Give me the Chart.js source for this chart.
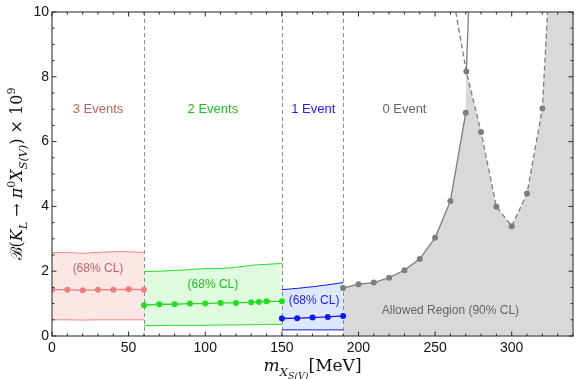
<!DOCTYPE html>
<html>
<head>
<meta charset="utf-8">
<script src="https://cdn.jsdelivr.net/npm/chart.js@4/dist/chart.umd.min.js"></script>
<style>
  body { margin: 0; background: #fff; }
  canvas { display: block; }
</style>
</head>
<body>
<canvas id="chart" width="577" height="379"></canvas>
<script>
// 3 events (red)
const xRed = [0, 10, 20, 30, 40, 50, 60];
const redMid = [1.43, 1.43, 1.41, 1.43, 1.43, 1.44, 1.43];
const redHi = [2.57, 2.58, 2.55, 2.58, 2.6, 2.6, 2.58];
const redLo = [0.5, 0.5, 0.49, 0.5, 0.5, 0.5, 0.5];

// 2 events (green)
const xGreen = [60, 70, 80, 90, 100, 110, 120, 130, 135, 140, 150];
const greenMid = [0.95, 0.98, 0.98, 1.0, 1.0, 1.02, 1.02, 1.04, 1.05, 1.07, 1.07];
const greenHi = [1.99, 2.0, 2.02, 2.05, 2.08, 2.08, 2.12, 2.18, 2.2, 2.21, 2.24];
const greenLo = [0.32, 0.32, 0.33, 0.33, 0.33, 0.34, 0.34, 0.35, 0.35, 0.36, 0.36];

// 1 event (blue)
const xBlue = [150, 160, 170, 180, 190];
const blueMid = [0.54, 0.55, 0.57, 0.59, 0.62];
const blueHi = [1.43, 1.47, 1.52, 1.58, 1.65];
const blueLo = [0.19, 0.19, 0.19, 0.19, 0.19];

// 0 event (gray), solid curve and dashed curve
const xSolid = [190, 200, 210, 220, 230, 240, 250, 260, 270];
const solidY = [1.48, 1.6, 1.65, 1.8, 2.03, 2.38, 3.03, 4.17, 6.89];
const xSolidExit = [270.4, 271.8];
const solidExitY = [8.16, 10];
const xDashed = [263.5, 270.4, 280, 290, 300, 310, 320, 323.4];
const dashedY = [10, 8.16, 6.3, 3.99, 3.39, 4.4, 7.02, 10];

const boundaries = [60, 150, 190];
const xTicks = [0, 50, 100, 150, 200, 250, 300];

const pts = (xs, ys) => xs.map((x, i) => ({ x: x, y: ys[i] }));

const GREEN = 'rgb(34,222,34)', BLUE = 'rgb(20,20,240)', GRAY = 'rgb(125,125,125)';

// allowed region envelope: solid curve then dashed curve beyond the crossing
const envelope = pts(xSolid, solidY)
  .concat(pts(xDashed.slice(1), dashedY.slice(1)))
  .concat([{ x: 340, y: 10 }]);

function band(xs, hi, lo, line, fillColor) {
  return [
    { data: pts(xs, hi), borderColor: line, borderWidth: 1, pointRadius: 0, fill: '+1', backgroundColor: fillColor },
    { data: pts(xs, lo), borderColor: line, borderWidth: 1, pointRadius: 0, fill: false }
  ];
}
function mid(xs, ys, color) {
  return { data: pts(xs, ys), borderColor: color, backgroundColor: color, borderWidth: 1.3, pointRadius: 3, pointBorderWidth: 0, fill: false };
}

const datasets = [
  mid(xRed, redMid, 'rgb(240,125,125)'),
  mid(xGreen, greenMid, GREEN),
  mid(xBlue, blueMid, BLUE),
  mid(xSolid, solidY, GRAY),
  { data: pts(xSolidExit, solidExitY), borderColor: GRAY, borderWidth: 1.3, pointRadius: 0, fill: false },
  { data: pts(xDashed, dashedY), borderColor: GRAY, backgroundColor: GRAY, borderWidth: 1.3, borderDash: [5, 3],
    pointRadius: xDashed.map((x, i) => (i === 0 || i === xDashed.length - 1) ? 0 : 3), pointBorderWidth: 0, fill: false },
  ...band(xRed, redHi, redLo, 'rgb(245,130,130)', 'rgb(253,230,230)'),
  ...band(xGreen, greenHi, greenLo, GREEN, 'rgb(224,252,224)'),
  ...band(xBlue, blueHi, blueLo, BLUE, 'rgb(220,233,252)'),
  { data: envelope, borderWidth: 0, borderColor: 'rgba(0,0,0,0)', pointRadius: 0, fill: 'origin', backgroundColor: 'rgb(217,217,217)' }
];

// labels placed in data coordinates
const labels = [
  { t: '3 Events', x: 30, y: 7.0, c: 'rgb(185,100,100)', s: 13 },
  { t: '2 Events', x: 105, y: 7.0, c: 'rgb(34,185,34)', s: 13 },
  { t: '1 Event', x: 170.5, y: 7.0, c: 'rgb(30,30,240)', s: 13 },
  { t: '0 Event', x: 230, y: 7.0, c: 'rgb(100,100,100)', s: 13 },
  { t: '(68% CL)', x: 30, y: 2.08, c: 'rgb(185,100,100)', s: 12 },
  { t: '(68% CL)', x: 105, y: 1.58, c: 'rgb(34,185,34)', s: 12 },
  { t: '(68% CL)', x: 171, y: 1.1, c: 'rgb(30,30,240)', s: 12 },
  { t: 'Allowed Region (90% CL)', x: 260, y: 0.79, c: 'rgb(100,100,100)', s: 12 }
];

// draws a list of rich text pieces, centered at (cx, baseline)
function richText(ctx, parts, size, cx, baseY) {
  const shifts = { 0: [1, 0], 1: [0.7, 0.3], 2: [0.55, 0.45], '-1': [0.7, -0.45] };
  let w = 0;
  parts.forEach(p => {
    const [f] = shifts[p.lv || 0];
    ctx.font = (p.it ? 'italic ' : '') + (size * f) + 'px "DejaVu Serif", "Liberation Serif", serif';
    p.w = ctx.measureText(p.t).width;
    w += p.w;
  });
  let x = cx - w / 2;
  parts.forEach(p => {
    const [f, dy] = shifts[p.lv || 0];
    ctx.font = (p.it ? 'italic ' : '') + (size * f) + 'px "DejaVu Serif", "Liberation Serif", serif';
    ctx.fillText(p.t, x, baseY + dy * size);
    x += p.w;
  });
}

const decor = {
  id: 'decor',
  beforeDatasetsDraw(chart) {
    const { ctx, chartArea: a, scales: { x } } = chart;
    ctx.save();
    ctx.strokeStyle = 'rgb(140,140,140)';
    ctx.lineWidth = 1;
    ctx.setLineDash([4, 3]);
    boundaries.forEach(b => {
      const px = Math.round(x.getPixelForValue(b)) + 0.5;
      ctx.beginPath();
      ctx.moveTo(px, a.top);
      ctx.lineTo(px, a.bottom);
      ctx.stroke();
    });
    ctx.restore();
  },
  afterDatasetsDraw(chart) {
    const { ctx, chartArea: a, scales: { x, y } } = chart;
    ctx.save();
    // text labels
    ctx.textAlign = 'center';
    ctx.textBaseline = 'middle';
    labels.forEach(l => {
      ctx.fillStyle = l.c;
      ctx.font = l.s + 'px "Liberation Sans", Arial, sans-serif';
      ctx.fillText(l.t, x.getPixelForValue(l.x), y.getPixelForValue(l.y));
    });

    // frame with inward ticks
    ctx.strokeStyle = 'rgb(70,70,70)';
    ctx.lineWidth = 1.2;
    ctx.strokeRect(a.left, a.top, a.right - a.left, a.bottom - a.top);
    ctx.lineWidth = 1;
    ctx.strokeStyle = 'rgb(40,40,40)';
    for (let v = 0; v <= 340; v += 10) {
      const px = x.getPixelForValue(v);
      const len = v % 50 === 0 ? 4.5 : 2.5;
      ctx.beginPath();
      ctx.moveTo(px, a.bottom); ctx.lineTo(px, a.bottom - len);
      ctx.moveTo(px, a.top); ctx.lineTo(px, a.top + len);
      ctx.stroke();
    }
    for (let v = 0; v <= 10; v += 0.5) {
      const py = y.getPixelForValue(v);
      const len = v % 2 === 0 ? 4.5 : 2.5;
      ctx.beginPath();
      ctx.moveTo(a.left, py); ctx.lineTo(a.left + len, py);
      ctx.moveTo(a.right, py); ctx.lineTo(a.right - len, py);
      ctx.stroke();
    }

    // axis titles
    ctx.fillStyle = '#111';
    ctx.textAlign = 'left';
    ctx.textBaseline = 'alphabetic';
    richText(ctx, [
      { t: 'm', it: true },
      { t: 'X', it: true, lv: 1 },
      { t: 'S(V)', it: true, lv: 2 },
      { t: '[MeV]' }
    ], 17, (a.left + a.right) / 2, 371);

    ctx.translate(22, (a.top + a.bottom) / 2);
    ctx.rotate(-Math.PI / 2);
    richText(ctx, [
      { t: 'ℬ(' },
      { t: 'K', it: true },
      { t: 'L', it: true, lv: 1 },
      { t: ' → ' },
      { t: 'π', it: true },
      { t: '0', lv: -1 },
      { t: 'X', it: true },
      { t: 'S(V)', it: true, lv: 1 },
      { t: ') × 10' },
      { t: '9', lv: -1 }
    ], 16, 0, 0);
    ctx.restore();
  }
};

new Chart(document.getElementById('chart'), {
  type: 'line',
  data: { datasets: datasets },
  options: {
    responsive: false,
    animation: false,
    layout: { padding: { top: 12, right: 2, left: 0, bottom: 0 } },
    plugins: {
      legend: { display: false },
      tooltip: { enabled: false },
      filler: { drawTime: 'beforeDatasetsDraw' }
    },
    scales: {
      x: {
        type: 'linear', min: 0, max: 340,
        afterFit: s => { s.height = 43; },
        afterBuildTicks: s => { s.ticks = xTicks.map(v => ({ value: v })); },
        grid: { display: false, drawTicks: false },
        border: { display: false },
        ticks: { color: '#111', padding: 4, maxRotation: 0, font: { size: 14, family: '"Liberation Sans", Arial, sans-serif' } }
      },
      y: {
        min: 0, max: 10,
        afterFit: s => { s.width = 52; },
        grid: { display: false, drawTicks: false },
        border: { display: false },
        ticks: { stepSize: 2, color: '#111', padding: 3, font: { size: 14, family: '"Liberation Sans", Arial, sans-serif' } }
      }
    }
  },
  plugins: [decor]
});
</script>
</body>
</html>
